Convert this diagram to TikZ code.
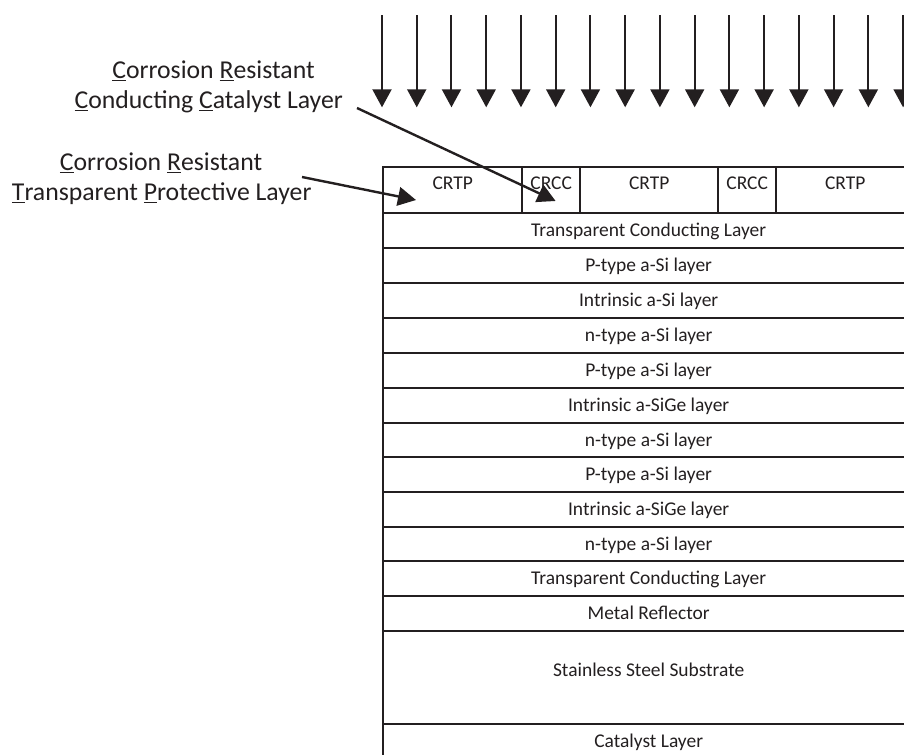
\documentclass[tikz,border=0pt]{standalone}
\usepackage{fontspec}
\usetikzlibrary{arrows.meta}
\newfontfamily\carl{Carlito}
\definecolor{ink}{RGB}{35,31,32}
\begin{document}
\begin{tikzpicture}[x=0.75pt,y=-0.75pt,
  cell/.style={draw=ink, line width=1.75pt, inner sep=0pt, anchor=north west, text=ink,
    font=\carl\fontsize{14.6}{17.5}\selectfont, text height=9.4pt, text depth=0pt},
  cw/.style={minimum width=#1*0.75pt},
  ch/.style={minimum height=#1*0.75pt},
  topcell/.style={cell, ch=46, text depth=10.2pt},
  layer/.style={cell, cw=531},
  lbl/.style={anchor=base, inner sep=0pt, text=ink, font=\carl\fontsize{19.3}{22.5}\selectfont},
  ray/.style={draw=ink, line width=1.5pt, -{Triangle[length=13.5pt,width=14.25pt]}},
  pointer/.style={draw=ink, line width=1.8pt, -{Triangle[length=13.5pt,width=14pt]}}]
\useasboundingbox (0,0) rectangle (904,754);
\clip (0,0) rectangle (904,754);

% incoming light
\foreach \k in {0,...,15}{
  \coordinate (s\k) at (382+34.74*\k,15);
  \coordinate (e\k) at (382+34.74*\k,107.3);
  \draw[ray] (s\k) -- (e\k);
}

% top patterned layer
\node[topcell, cw=139] (crtp1) at (382,166) {CRTP};
\node[topcell, cw=58]  (crcc1) at (521,166) {CRCC};
\node[topcell, cw=138] (crtp2) at (579,166) {CRTP};
\node[topcell, cw=58]  (crcc2) at (717,166) {CRCC};
\node[topcell, cw=138] (crtp3) at (775,166) {CRTP};

% stack
\node[layer, ch=35]   (tcl1) at (382,212)   {Transparent Conducting Layer};
\node[layer, ch=35]   (p1)   at (382,247)   {P-type a-Si layer};
\node[layer, ch=35]   (i1)   at (382,282)   {Intrinsic a-Si layer};
\node[layer, ch=35]   (n1)   at (382,317)   {n-type a-Si layer};
\node[layer, ch=35]   (p2)   at (382,352)   {P-type a-Si layer};
\node[layer, ch=34.5] (i2)   at (382,387)   {Intrinsic a-SiGe layer};
\node[layer, ch=34.5] (n2)   at (382,421.5) {n-type a-Si layer};
\node[layer, ch=35]   (p3)   at (382,456)   {P-type a-Si layer};
\node[layer, ch=34.5] (i3)   at (382,491)   {Intrinsic a-SiGe layer};
\node[layer, ch=34.5] (n3)   at (382,525.5) {n-type a-Si layer};
\node[layer, ch=35]   (tcl2) at (382,560)   {Transparent Conducting Layer};
\node[layer, ch=34.5] (mr)   at (382,595)   {Metal Reflector};
\node[layer, ch=93, text depth=10.9pt] (ss) at (382,629.5) {Stainless Steel Substrate};
\node[layer, ch=34.5] (cat)  at (382,722.5) {Catalyst Layer};

% labels
\node[lbl] (la1) at (213.5,78) {\underline{C}orrosion \underline{R}esistant};
\node[lbl] (la2) at (208.7,108) {\underline{C}onducting \underline{C}atalyst Layer};
\node[lbl] (lb1) at (161,170) {\underline{C}orrosion \underline{R}esistant};
\node[lbl] (lb2) at (161.7,200) {\underline{T}ransparent \underline{P}rotective Layer};

% pointers
\coordinate (pa) at (357,108);
\coordinate (pae) at (555.6,201);
\coordinate (pb) at (302,177);
\coordinate (pbe) at (416,200);
\draw[pointer] (pa) -- (pae);
\draw[pointer] (pb) -- (pbe);
\end{tikzpicture}
\end{document}
